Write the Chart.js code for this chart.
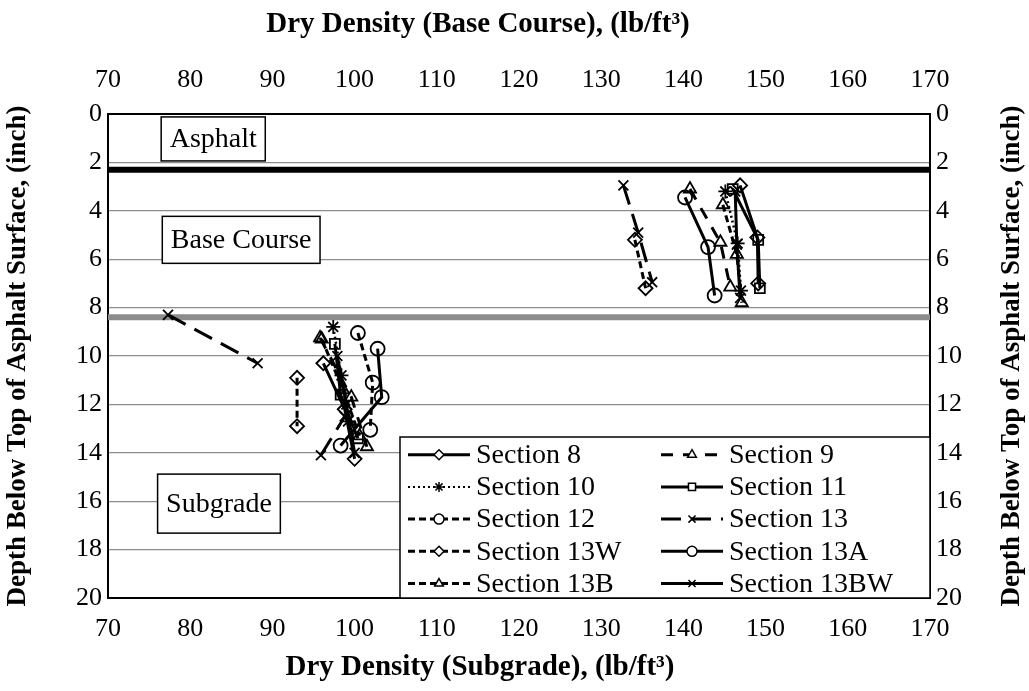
<!DOCTYPE html>
<html>
<head>
<meta charset="utf-8">
<script src="https://cdn.jsdelivr.net/npm/chart.js@4/dist/chart.umd.min.js"></script>
<style>
  html, body { margin: 0; padding: 0; background: #fff; }
  #density { display: block; }
</style>
</head>
<body>
<canvas id="density" width="1029" height="691"></canvas>
<script>
const SERIF = '"Liberation Serif", "Times New Roman", serif';

// sections, in legend order
const sections = ['Section 8', 'Section 9', 'Section 10', 'Section 11', 'Section 12',
  'Section 13', 'Section 13W', 'Section 13A', 'Section 13B', 'Section 13BW'];

// base course dry density (lb/ft3) and depth (inch), one row per section
const baseDensity = [
  [146.9, 149.0, 149.1],
  [140.8, 144.5, 145.7],
  [145.1, 146.6, 147.0],
  [146.0, 149.1, 149.3],
  [],
  [132.7, 134.5, 136.2],
  [134.1, 135.4],
  [140.2, 143.0, 143.8],
  [144.8, 146.5, 147.1],
  [146.3, 146.5, 146.9]
];
const baseDepth = [
  [2.95, 5.1, 7.0],
  [3.1, 5.3, 7.15],
  [3.2, 5.35, 7.3],
  [3.1, 5.2, 7.2],
  [],
  [2.95, 4.9, 6.95],
  [5.2, 7.2],
  [3.45, 5.5, 7.5],
  [3.75, 5.8, 7.8],
  [3.2, 5.4, 7.6]
];

// subgrade dry density (lb/ft3) and depth (inch); null splits a profile
const subDensity = [
  [96.2, 98.8, 100.0],
  [95.8, 99.6, 101.5],
  [97.4, 98.4, 99.2],
  [97.6, 98.3, 100.4],
  [100.4, 102.2, 101.9],
  [77.3, 88.2, null, 95.9, 98.8],
  [93.0, 93.0],
  [102.8, 103.3, 98.3],
  [96.0, 98.6, 100.6],
  [97.9, 99.0, 100.0]
];
const subDepth = [
  [10.3, 12.2, 14.25],
  [9.25, 11.7, 13.75],
  [8.8, 10.8, 12.7],
  [9.5, 11.6, 13.4],
  [9.05, 11.1, 13.05],
  [8.3, 10.3, null, 14.1, 12.5],
  [10.9, 12.9],
  [9.7, 11.7, 13.7],
  [9.3, 11.4, 13.3],
  [10.0, 12.0, 14.0]
];

// layer boundaries (inch): asphalt / base course, base course / subgrade
const layerDepths = [2.3, 8.4];
const layerColors = ['#000000', '#8c8c8c'];
const densityRange = [70, 170];

const markers = ['rectRot', 'triangle', 'star', 'rect', 'circle',
  'crossRot', 'rectRot', 'circle', 'triangle', 'crossRot'];
const dashes = [[], [12, 10], [2, 3], [], [7, 4], [20, 10], [7, 4], [], [7, 4], []];

function profile(i) {
  const pts = [];
  baseDensity[i].forEach((d, k) => pts.push({ x: d, y: baseDepth[i][k] }));
  if (pts.length) pts.push({ x: null, y: null });
  subDensity[i].forEach((d, k) => pts.push({ x: d, y: subDepth[i][k] }));
  return pts;
}

const datasets = sections.map((name, i) => ({
  label: name,
  data: profile(i),
  showLine: true,
  borderColor: '#000',
  borderWidth: i === 2 ? 2.5 : 3,
  borderDash: dashes[i],
  pointStyle: markers[i],
  pointRadius: 7,
  pointBorderWidth: 1.8,
  pointBorderColor: '#000',
  pointBackgroundColor: 'rgba(0,0,0,0)'
}));

layerDepths.forEach((depth, i) => {
  datasets.push({
    label: 'boundary' + i,
    data: densityRange.map(d => ({ x: d, y: depth })),
    showLine: true,
    borderColor: layerColors[i],
    borderWidth: 6,
    pointRadius: 0
  });
});

// boxed layer names, anchored in data units
const layerNotes = [
  { text: 'Asphalt', x: 82.8, y: 1.03, h: 44 },
  { text: 'Base Course', x: 86.2, y: 5.2, h: 47 },
  { text: 'Subgrade', x: 83.5, y: 16.1, h: 59 }
];

const axisTitles = {
  bottom: 'Dry Density (Subgrade), (lb/ft³)',
  top: 'Dry Density (Base Course), (lb/ft³)',
  side: 'Depth Below Top of Asphalt Surface, (inch)'
};

const notesPlugin = {
  id: 'layerNotes',
  afterDatasetsDraw(chart) {
    const { ctx, chartArea, scales } = chart;
    ctx.save();
    ctx.font = '28px ' + SERIF;
    ctx.textAlign = 'center';
    ctx.textBaseline = 'middle';
    layerNotes.forEach(n => {
      const cx = scales.x.getPixelForValue(n.x);
      const cy = scales.y.getPixelForValue(n.y);
      const w = ctx.measureText(n.text).width + 17;
      ctx.fillStyle = '#fff';
      ctx.fillRect(cx - w / 2, cy - n.h / 2, w, n.h);
      ctx.strokeStyle = '#000';
      ctx.lineWidth = 1.5;
      ctx.strokeRect(cx - w / 2, cy - n.h / 2, w, n.h);
      ctx.fillStyle = '#000';
      ctx.fillText(n.text, cx, cy + 1);
    });

    // two-column legend in the lower right corner
    const lw = 530, lh = 161;
    const lx = chartArea.right - lw, ly = chartArea.bottom - lh;
    ctx.fillStyle = '#fff';
    ctx.fillRect(lx, ly, lw, lh);
    ctx.strokeStyle = '#000';
    ctx.lineWidth = 1.5;
    ctx.strokeRect(lx, ly, lw, lh);
    ctx.font = '28px ' + SERIF;
    ctx.textAlign = 'left';
    const rowH = lh / 5;
    sections.forEach((name, i) => {
      const col = i % 2, row = Math.floor(i / 2);
      const sx = lx + 8 + col * 253;
      const sy = ly + rowH * (row + 0.55);
      ctx.strokeStyle = '#000';
      ctx.lineWidth = i === 2 ? 2 : 3;
      ctx.setLineDash(dashes[i]);
      ctx.beginPath();
      ctx.moveTo(sx, sy);
      ctx.lineTo(sx + 62, sy);
      ctx.stroke();
      ctx.setLineDash([]);
      ctx.lineWidth = 1.5;
      ctx.fillStyle = '#fff';
      Chart.helpers.drawPoint(ctx, { pointStyle: markers[i], radius: 5, rotation: 0, borderWidth: 1.5 }, sx + 31, sy);
      ctx.fillStyle = '#000';
      ctx.fillText(name, sx + 68, sy + 1);
    });
    ctx.restore();
  },
  afterDraw(chart) {
    const { ctx, chartArea } = chart;
    ctx.save();
    ctx.fillStyle = '#000';
    ctx.textAlign = 'center';
    ctx.textBaseline = 'middle';
    ctx.font = 'bold 29px ' + SERIF;
    ctx.fillText(axisTitles.top, 478, 25);
    ctx.fillText(axisTitles.bottom, 480, 668);
    ctx.font = 'bold 27px ' + SERIF;
    ctx.translate(1012, (chartArea.top + chartArea.bottom) / 2);
    ctx.rotate(-Math.PI / 2);
    ctx.fillText(axisTitles.side, 0, 0);
    ctx.restore();
  }
};

const tickFont = { family: SERIF, size: 26 };
const titleFont = { family: SERIF, size: 27, weight: 'bold' };

new Chart(document.getElementById('density'), {
  type: 'scatter',
  data: { datasets },
  options: {
    responsive: false,
    animation: false,
    devicePixelRatio: 1,
    layout: { padding: 0 },
    plugins: { legend: { display: false }, tooltip: { enabled: false } },
    scales: {
      x: {
        type: 'linear', position: 'bottom', min: 70, max: 170,
        ticks: { stepSize: 10, color: '#000', font: tickFont, padding: 16 },
        grid: { display: false, drawTicks: false },
        border: { color: '#000', width: 2 },
        afterFit: s => { s.height = 93; }
      },
      x2: {
        type: 'linear', position: 'top', min: 70, max: 170,
        ticks: { stepSize: 10, color: '#000', font: tickFont, padding: 18 },
        grid: { display: false, drawTicks: false },
        border: { color: '#000', width: 2 },
        afterFit: s => { s.height = 114; }
      },
      y: {
        type: 'linear', position: 'left', min: 0, max: 20, reverse: true,
        ticks: { stepSize: 2, color: '#000', font: tickFont, padding: 6 },
        grid: { color: '#8c8c8c', lineWidth: 1.3, drawTicks: false },
        border: { color: '#000', width: 2 },
        title: { display: true, text: axisTitles.side, color: '#000', font: titleFont, padding: { top: 2, bottom: 0 } },
        afterFit: s => { s.width = 108; }
      },
      y2: {
        type: 'linear', position: 'right', min: 0, max: 20, reverse: true,
        ticks: { stepSize: 2, color: '#000', font: tickFont, padding: 6 },
        grid: { display: false, drawTicks: false },
        border: { color: '#000', width: 2 },
        afterFit: s => { s.width = 99; }
      }
    }
  },
  plugins: [notesPlugin]
});
</script>
</body>
</html>
